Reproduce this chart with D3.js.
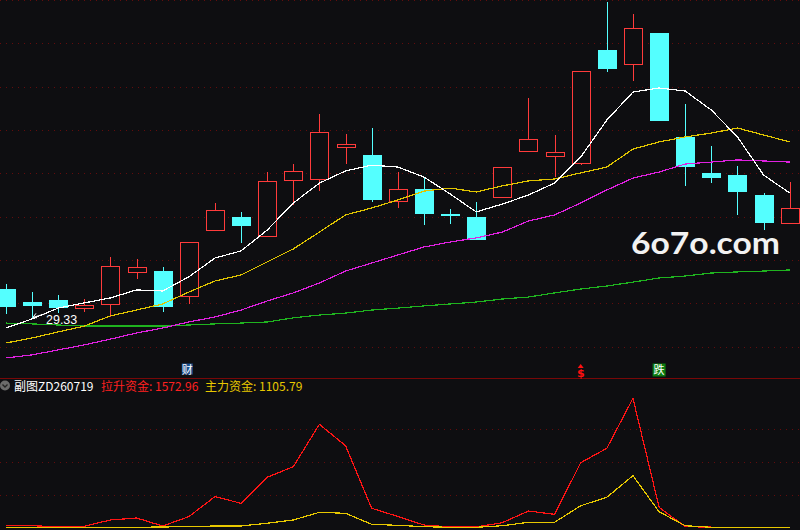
<!DOCTYPE html>
<html><head><meta charset="utf-8">
<script src="https://cdn.jsdelivr.net/npm/d3@7"></script>
<style>html,body{margin:0;padding:0;background:#0e0e11;overflow:hidden}svg{display:block}</style>
</head><body><svg id="c" width="800" height="530"></svg>
<script>
// ---------- data ----------
const days = ["1","2","3","4","5","6","7","8","9","10","11","12","13","14","15","16","17","18","19","20","21","22","23","24","25","26","27","28","29","30","31"];
const open  = [30.66,30.06,30.15,29.78,29.97,31.45,31.49,30.34,33.38,33.98,33.11,35.69,35.74,37.22,36.85,34.72,35.28,34.12,33.98,34.91,37.03,36.80,36.48,41.69,41.05,42.48,37.68,36.02,35.92,35.00,33.71];
const high  = [30.89,30.52,30.38,30.20,32.14,32.05,31.68,32.83,34.63,34.22,36.06,36.43,38.74,37.82,38.09,36.06,35.83,34.35,34.68,36.29,39.48,37.77,40.72,43.91,43.35,42.48,39.20,37.26,36.34,35.09,35.60];
const low   = [29.51,29.33,29.55,29.60,29.37,31.12,29.60,29.97,33.34,32.78,33.06,34.54,35.18,36.43,34.68,34.40,33.62,33.66,32.92,34.91,37.03,35.83,36.38,40.68,40.26,38.42,35.42,35.55,34.08,33.38,33.71];
const close = [29.83,29.88,29.78,29.92,31.72,31.68,29.83,32.83,34.31,33.57,35.65,36.11,37.91,37.35,34.77,35.28,34.12,34.03,32.92,36.29,37.58,36.98,40.72,40.82,42.71,38.42,36.29,35.78,35.14,33.71,34.40];
const ma5   = [28.86,29.28,29.78,30.02,30.25,30.62,30.57,31.22,32.09,32.42,33.38,34.63,35.55,36.11,36.38,36.29,35.83,35.05,34.22,34.58,35.00,35.55,36.75,38.46,39.75,39.94,39.80,38.92,37.68,35.92,35.09];
const ma10  = [28.17,28.40,28.68,28.95,29.42,29.69,29.97,30.52,31.03,31.31,31.91,32.51,33.29,34.08,34.40,34.77,35.18,35.32,35.14,35.42,35.65,35.74,36.02,36.29,37.12,37.45,37.68,37.86,38.09,37.77,37.45];
const ma20  = [27.48,27.62,27.85,28.08,28.35,28.63,28.86,29.14,29.37,29.69,30.11,30.48,30.94,31.49,31.86,32.23,32.60,32.83,33.02,33.29,33.80,34.08,34.63,35.23,35.78,36.06,36.43,36.52,36.62,36.57,36.52];
const ma60  = [29.09,29.05,29.00,28.95,28.95,28.95,28.95,29.00,29.05,29.09,29.14,29.33,29.46,29.55,29.69,29.78,29.88,29.97,30.06,30.20,30.29,30.48,30.66,30.80,30.98,31.17,31.26,31.40,31.45,31.49,31.54];
const liftFund = [27,27,12,18,114,144,23,164,467,367,761,921,1564,1239,291,168,38,8,8,73,250,200,982,1200,1957,306,12,6,6,6,6];
const mainFund = [3,3,3,3,3,3,8,12,23,23,64,114,230,215,48,33,12,3,3,27,79,79,330,458,785,239,27,3,3,3,3];
const priceTicks = [28,30,32,34,36,38,40,42,44];
const subTicks = [500,1000,1500];
const markerDays = ["8","23","26"];
const markerTexts = ["财","$","跌"];
const headerTexts = ["副图ZD260719","拉升资金: 1572.96","主力资金: 1105.79"];
const watermark = "6o7o.com";

// ---------- setup ----------
const W = 800, H = 530;
const svg = d3.select("#c");
svg.append("rect").attr("width",W).attr("height",H).attr("fill","#0e0e11");

const x = d3.scaleBand().domain(days).range([-7.2, 802.8]).padding(0);
const cx = d => x(d) + x.bandwidth()/2;
const y = d3.scaleLinear().domain([28,44]).range([346.67,0]);
const ys = d3.scaleLinear().domain([0,2000]).range([527.5,395.5]);

const bars = days.map((d,i)=>({d,i,o:open[i],h:high[i],l:low[i],c:close[i]}));

// grid
const grid = svg.append("g").attr("stroke","#640c0c").attr("stroke-dasharray","1,5").attr("shape-rendering","crispEdges");
priceTicks.forEach(t=>{
  const yy = Math.round(y(t))+0.5;
  grid.append("line").attr("x1",0).attr("x2",W).attr("y1",yy).attr("y2",yy);
});
subTicks.forEach(t=>{
  const yy = Math.round(ys(t))+0.5;
  grid.append("line").attr("x1",0).attr("x2",W).attr("y1",yy).attr("y2",yy);
});
// panel separator
svg.append("line").attr("x1",0).attr("x2",W).attr("y1",378.5).attr("y2",378.5)
  .attr("stroke","#780808").attr("stroke-width",1.2);

// watermark
svg.append("text").attr("x",631).attr("y",254)
  .attr("font-family","Lato, 'Open Sans', sans-serif").attr("font-weight",700)
  .attr("font-size",30).attr("fill","#f2f2f2")
  .attr("textLength",149).attr("lengthAdjust","spacingAndGlyphs")
  .text(watermark);

// candles
const UP="#ff3b3b", DN="#54ffff";
const bw = 19;
const cg = svg.append("g").attr("shape-rendering","crispEdges");
bars.forEach(b=>{
  const xc = Math.round(cx(b.d));
  const up = b.c >= b.o;
  const col = up?UP:DN;
  const yT = Math.round(y(Math.max(b.o,b.c))), yB = Math.round(y(Math.min(b.o,b.c)));
  const yH = Math.round(y(b.h)), yL = Math.round(y(b.l));
  const left = xc - Math.floor(bw/2);
  if(up){
    if(yH<yT) cg.append("line").attr("x1",xc+0.5).attr("x2",xc+0.5).attr("y1",yH).attr("y2",yT).attr("stroke",col);
    if(yL>yB) cg.append("line").attr("x1",xc+0.5).attr("x2",xc+0.5).attr("y1",yB).attr("y2",yL).attr("stroke",col);
    cg.append("rect").attr("x",left+0.5).attr("y",yT+0.5).attr("width",bw-1).attr("height",Math.max(1,yB-yT))
      .attr("fill","#0e0e11").attr("stroke",col).attr("stroke-width",1.3);
  } else {
    cg.append("line").attr("x1",xc+0.5).attr("x2",xc+0.5).attr("y1",yH).attr("y2",yL).attr("stroke",col);
    cg.append("rect").attr("x",left).attr("y",yT).attr("width",bw).attr("height",Math.max(2,yB-yT)).attr("fill",col);
  }
});

// moving averages
const line = d3.line().x((v,i)=>cx(days[i])).y(v=>y(v));
[[ma60,"#1fb31f"],[ma20,"#e021e0"],[ma10,"#e0c400"],[ma5,"#ffffff"]].forEach(([s,c])=>{
  svg.append("path").attr("d",line(s)).attr("fill","none").attr("stroke",c).attr("stroke-width",1.2)
    .attr("shape-rendering","crispEdges");
});

// low label
const li = d3.minIndex(low);
const lx = cx(days[li]), ly = y(low[li]);
const lg = svg.append("g").attr("stroke","#ffffff").attr("stroke-width",1);
lg.append("line").attr("x1",lx+1).attr("y1",ly-0.5).attr("x2",lx+13).attr("y2",ly-4);
lg.append("line").attr("x1",lx+1).attr("y1",ly-0.5).attr("x2",lx+4).attr("y2",ly-4.5);
lg.append("line").attr("x1",lx+1).attr("y1",ly-0.5).attr("x2",lx+5).attr("y2",ly);
svg.append("text").attr("x",lx+14).attr("y",ly+6.5).attr("fill","#ffffff")
  .attr("font-family","'Liberation Sans', Arial, sans-serif").attr("font-size",12.5).text(low[li].toFixed(2));

// markers
markerDays.forEach((d,k)=>{
  const mx = cx(d);
  const t = markerTexts[k];
  if(t==="$"){
    svg.append("path").attr("d",`M${mx-3},${368}L${mx},${364}L${mx+3},${368}Z`).attr("fill","#ff1010");
    svg.append("text").attr("x",mx).attr("y",377).attr("text-anchor","middle").attr("fill","#ff1010")
      .attr("font-family","'DejaVu Sans', sans-serif").attr("font-weight",700).attr("font-size",11).text(t);
  } else {
    const bg = t==="财" ? "#1c4f8c" : "#0b7d10";
    const bx = t==="财" ? mx-7 : mx-6.5;
    svg.append("rect").attr("x",bx).attr("y",363.5).attr("width",t==="财"?11:13).attr("height",t==="财"?11:13).attr("fill",bg);
    svg.append("text").attr("x",bx+(t==="财"?5.5:6.5)).attr("y",374).attr("text-anchor","middle").attr("fill","#ffffff")
      .attr("font-family","'Noto Sans CJK SC', sans-serif").attr("font-size",11).text(t);
  }
});

// sub chart header
svg.append("circle").attr("cx",5).attr("cy",385.5).attr("r",5).attr("fill","#6b6b6b");
svg.append("path").attr("d","M2.5,384.5L5,387L7.5,384.5").attr("fill","none").attr("stroke","#222").attr("stroke-width",1.3);
const hx = [14,101,205], hc = ["#ffffff","#ff2020","#e8c800"];
headerTexts.forEach((t,k)=>{
  svg.append("text").attr("x",hx[k]).attr("y",391).attr("fill",hc[k])
    .attr("font-family","'Noto Sans CJK SC', sans-serif").attr("font-size",12).text(t);
});

// sub chart lines
const sline = d3.line().x((v,i)=>cx(days[i])).y(v=>ys(v));
svg.append("path").attr("d",sline(liftFund)).attr("fill","none").attr("stroke","#ff1414").attr("stroke-width",1.2).attr("shape-rendering","crispEdges");
svg.append("path").attr("d",sline(mainFund)).attr("fill","none").attr("stroke","#e8c800").attr("stroke-width",1.2).attr("shape-rendering","crispEdges");
</script></body></html>
